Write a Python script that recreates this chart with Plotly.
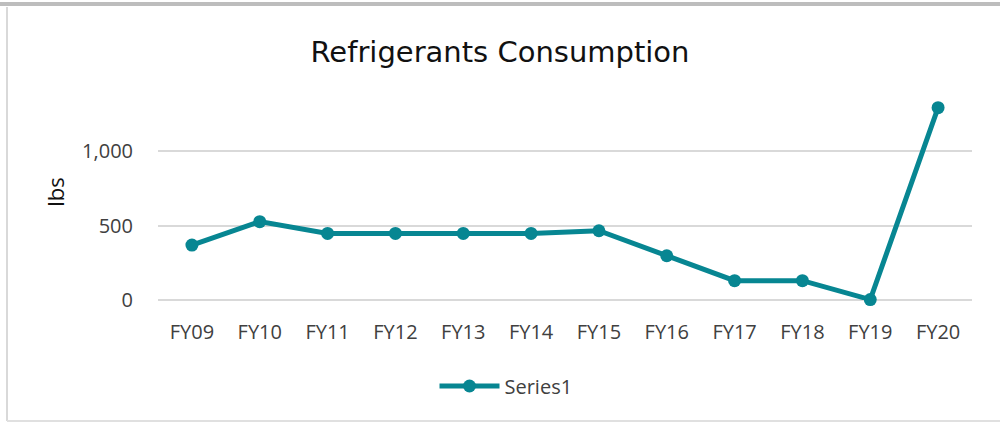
import plotly.graph_objects as go

categories = ["FY09", "FY10", "FY11", "FY12", "FY13", "FY14", "FY15", "FY16", "FY17", "FY18", "FY19", "FY20"]
values = [369, 526, 447, 447, 447, 447, 465, 297, 130, 130, 3, 1291]
tick_vals = [0, 500, 1000]
tick_text = ["0", "500", "1,000"]

W, H = 1000, 423
L, R, T, B = 158, 28, 84, 123

color = "#078692"
font = "Open Sans, Noto Sans, sans-serif"
tfont = "DejaVu Sans, sans-serif"

fig = go.Figure()
fig.add_trace(go.Scatter(
    x=categories, y=values, mode="lines+markers", name="Series1",
    line=dict(color=color, width=5),
    marker=dict(color=color, size=13),
    cliponaxis=False,
))

ph = H - T - B
pw = W - L - R

fig.update_layout(
    width=W, height=H,
    margin=dict(l=L, r=R, t=T, b=B),
    paper_bgcolor="white", plot_bgcolor="white",
    title=dict(text="Refrigerants Consumption", x=0.5, xanchor="center",
               y=1 - 52 / H, yanchor="middle",
               font=dict(family=tfont, size=29, color="#111111")),
    xaxis=dict(type="category", range=[-0.5, 11.5], showgrid=False, zeroline=False,
               showline=False, ticks="", ticklabelstandoff=18,
               tickfont=dict(family=font, size=20, color="#404040")),
    yaxis=dict(range=[0, 1450], tickvals=tick_vals, ticktext=tick_text,
               showgrid=True, gridcolor="#D9D9D9", gridwidth=2,
               zeroline=True, zerolinecolor="#D9D9D9", zerolinewidth=2,
               showline=False, ticks="", ticklabelstandoff=24,
               title=dict(text="lbs", font=dict(family=font, size=22, color="#111111"), standoff=11),
               tickfont=dict(family=font, size=20, color="#404040")),
    showlegend=True,
    legend=dict(orientation="h", x=(506 - L) / pw, xanchor="center", y=-(386 - (T + ph)) / ph,
                yanchor="middle", font=dict(family=font, size=20, color="#404040"),
                itemwidth=60),
    shapes=[
        dict(type="rect", xref="paper", yref="paper",
             x0=-L / pw, x1=(W - L) / pw,
             y0=1 + (T - 6) / ph, y1=1 + (T - 2) / ph,
             fillcolor="#BDBDBD", line=dict(width=0), layer="below"),
        dict(type="line", xref="paper", yref="paper",
             x0=-(L - 7) / pw, x1=-(L - 7) / pw,
             y0=1 + (T - 7) / ph, y1=-(B - 2) / ph,
             line=dict(color="#D9D9D9", width=2)),
        dict(type="line", xref="paper", yref="paper",
             x0=-(L - 7) / pw, x1=(W - L) / pw,
             y0=-(B - 2) / ph, y1=-(B - 2) / ph,
             line=dict(color="#E0E0E0", width=2)),
    ],
)

fig.write_html("out.html", config={"displayModeBar": False},
               post_script="document.body.style.margin='0';document.body.style.overflow='hidden';")
